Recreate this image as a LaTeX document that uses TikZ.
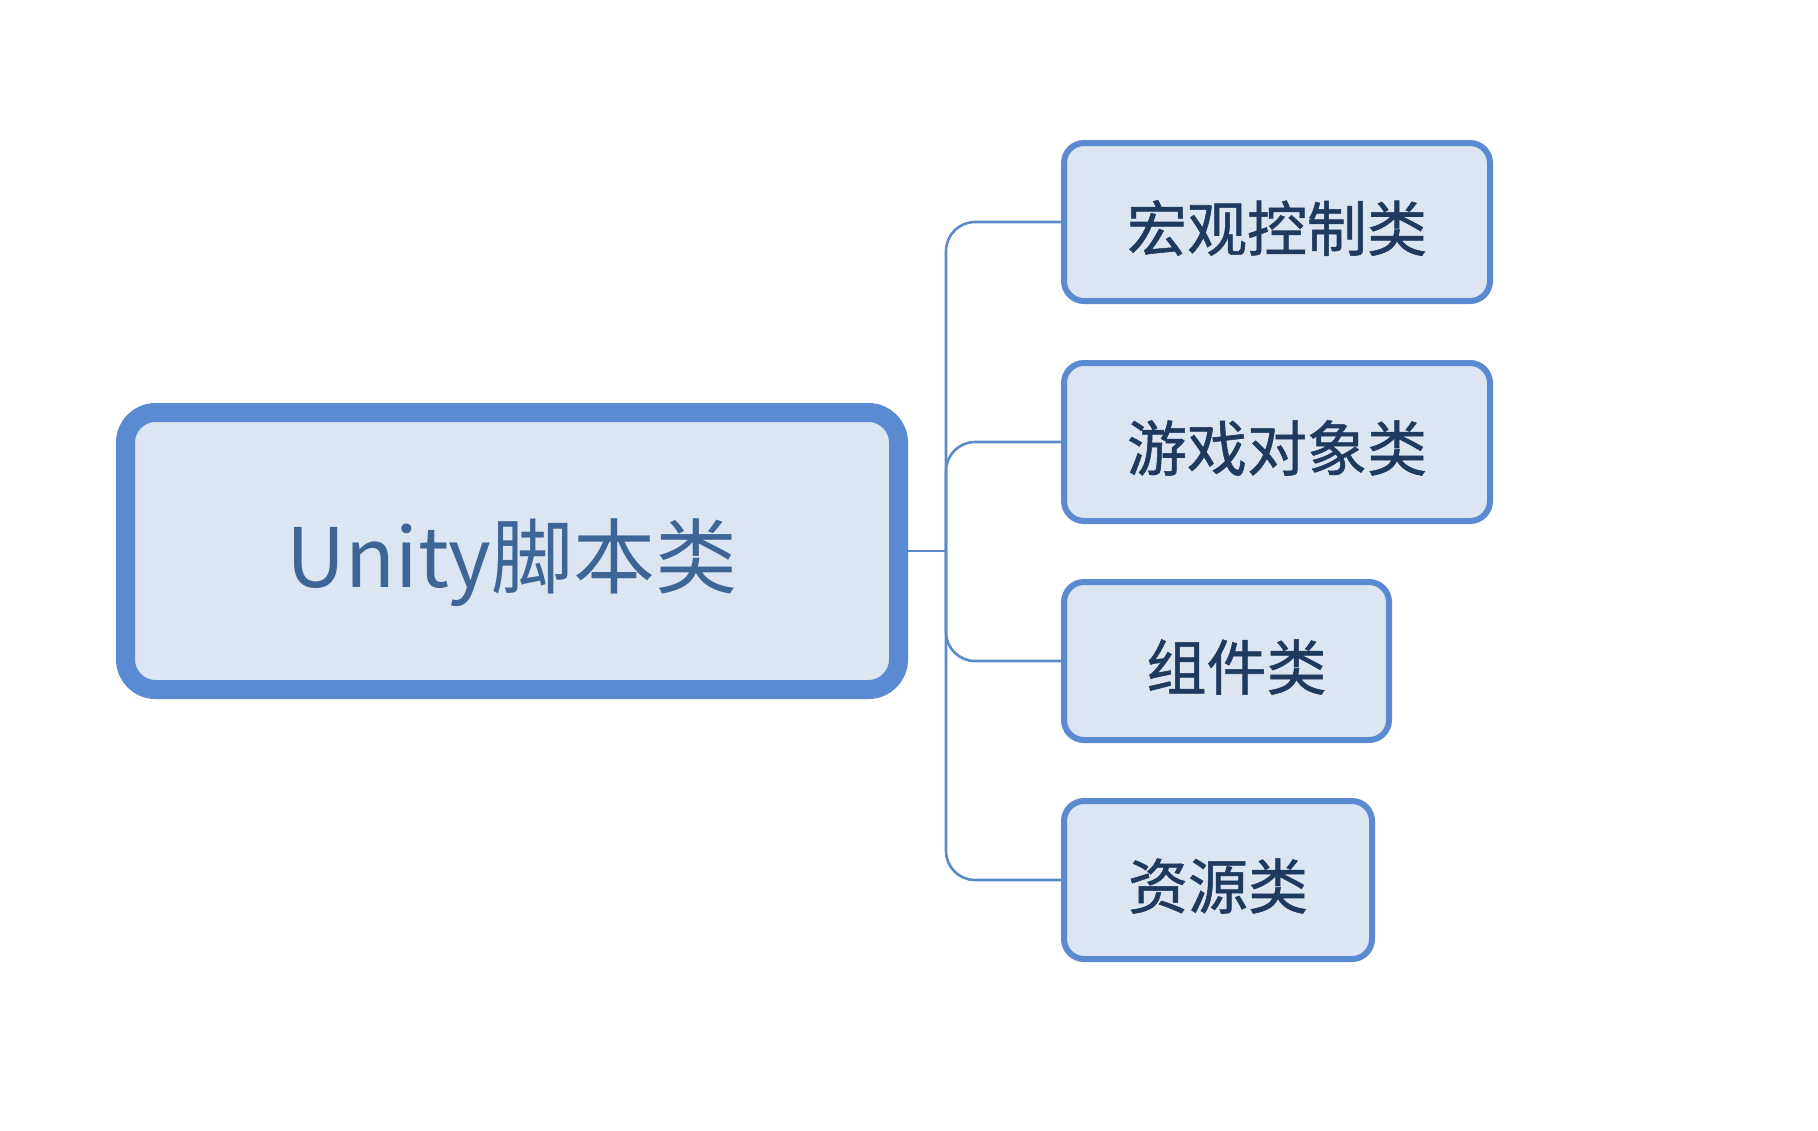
\documentclass[tikz,border=0pt]{standalone}
\usepackage{fontspec}
\setmainfont{Noto Sans CJK SC}
\newfontfamily\childfont[RawFeature={embolden=0.9}]{Noto Sans CJK SC}
\definecolor{bordc}{HTML}{5A8BD2}
\definecolor{fillc}{HTML}{DCE5F2}
\definecolor{maintxt}{HTML}{3D6596}
\definecolor{childtxt}{HTML}{1E3A5F}
\definecolor{connc}{HTML}{5B8AC8}
\newcommand{\lowertxt}[2]{\raisebox{-#1}[\height][\depth]{#2}}
\begin{document}
\begin{tikzpicture}[x=0.5pt,y=-0.5pt,
  rootbox/.style={draw=bordc,fill=fillc,line width=9.5pt,rounded corners=15pt,
    minimum width=386.5pt,minimum height=138.5pt,text=maintxt,
    font=\fontsize{41pt}{48pt}\selectfont,inner sep=0pt},
  childbox/.style={draw=bordc,fill=fillc,line width=3pt,rounded corners=10pt,
    minimum height=79pt,text=childtxt,
    font=\childfont\fontsize{30pt}{36pt}\selectfont,inner sep=0pt},
  conn/.style={draw=connc,line width=1.3pt,rounded corners=14.5pt}]
\useasboundingbox[fill=white] (0,0) rectangle (1818,1130);
\node[rootbox] (main) at (512,551) {\lowertxt{6pt}{Unity脚本类}};
\node[childbox,minimum width=213pt] (c1) at (1277,222) {\lowertxt{3pt}{宏观控制类}};
\node[childbox,minimum width=213pt] (c2) at (1277,442) {\lowertxt{3pt}{游戏对象类}};
\node[childbox,minimum width=162.5pt] (c3) at (1226.5,661) {\lowertxt{3pt}{\hspace{10pt}组件类}};
\node[childbox,minimum width=154pt] (c4) at (1218,880) {\lowertxt{3pt}{资源类}};
\coordinate (j) at (946,551);
\draw[conn] (c1.west) -| (j) |- (c4.west);
\draw[conn] (c2.west) -| (j);
\draw[conn] (c3.west) -| (j);
\draw[conn] (main.east) -- (j);
\end{tikzpicture}
\end{document}
